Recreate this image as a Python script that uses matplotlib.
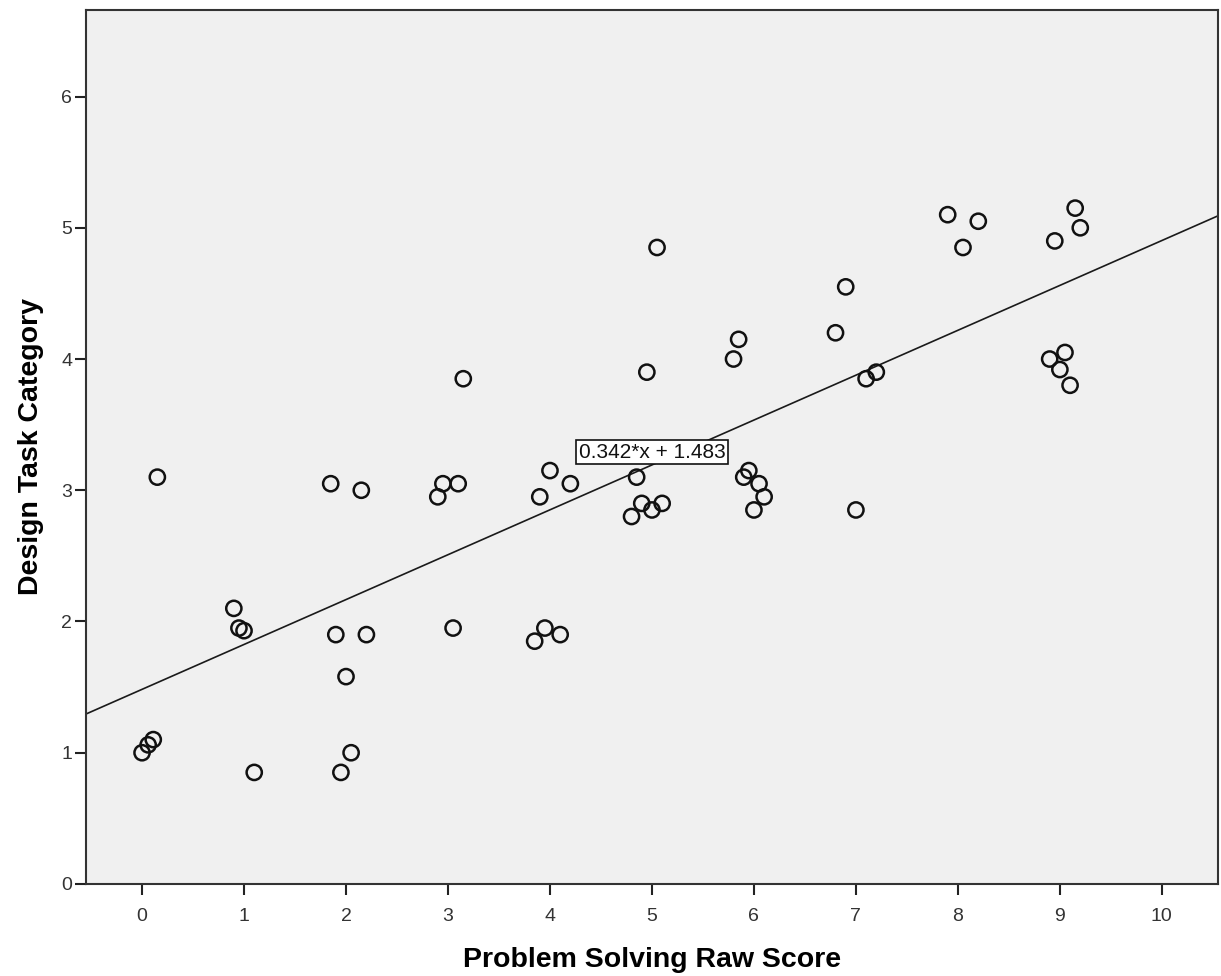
import matplotlib.pyplot as plt
import numpy as np

plt.rcParams['font.family'] = ['Liberation Sans', 'DejaVu Sans']

# scores
raw_score = [0.0, 0.06, 0.11, 0.15, 0.9, 0.95, 1.0, 1.1, 1.85, 1.9, 1.95, 2.0, 2.05,
             2.15, 2.2, 2.9, 2.95, 3.05, 3.1, 3.15, 3.85, 3.9, 3.95, 4.0, 4.1, 4.2,
             4.8, 4.85, 4.9, 4.95, 5.0, 5.05, 5.1, 5.8, 5.85, 5.9, 5.95, 6.0, 6.05,
             6.1, 6.8, 6.9, 7.0, 7.1, 7.2, 7.9, 8.05, 8.2, 8.9, 8.95, 9.0, 9.05,
             9.1, 9.15, 9.2]
design_cat = [1.0, 1.06, 1.1, 3.1, 2.1, 1.95, 1.93, 0.85, 3.05, 1.9, 0.85, 1.58, 1.0,
              3.0, 1.9, 2.95, 3.05, 1.95, 3.05, 3.85, 1.85, 2.95, 1.95, 3.15, 1.9, 3.05,
              2.8, 3.1, 2.9, 3.9, 2.85, 4.85, 2.9, 4.0, 4.15, 3.1, 3.15, 2.85, 3.05,
              2.95, 4.2, 4.55, 2.85, 3.85, 3.9, 5.1, 4.85, 5.05, 4.0, 4.9, 3.92, 4.05,
              3.8, 5.15, 5.0]

slope = 0.342
intercept = 1.483
fit_label = "0.342*x + 1.483"

fig = plt.figure(figsize=(12.21, 9.76), dpi=100)
ax = fig.add_axes([0.0704, 0.0943, 0.9271, 0.8955])
ax.set_facecolor('#f0f0f0')

xlim = (-0.55, 10.55)
ax.set_xlim(*xlim)
ax.set_ylim(0, 6.66)

# fit line
xs = np.array(xlim)
ax.plot(xs, slope * xs + intercept, color='#1a1a1a', lw=1.2, zorder=2)

ax.scatter(raw_score, design_cat, s=120, facecolors='none', edgecolors='#111111',
           linewidths=1.8, zorder=3)

ax.text(5.0, 3.29, fit_label, ha='center', va='center', fontsize=15, color='#111111',
        bbox=dict(boxstyle='square,pad=0.12', facecolor='white', edgecolor='#111111', lw=1.2),
        zorder=4)

ax.set_xticks(range(0, 11))
ax.set_yticks(range(0, 7))
ax.tick_params(axis='both', direction='out', length=8, width=1.5, color='#222222',
               labelsize=14, labelcolor='#333333')
ax.tick_params(axis='x', pad=9)
ax.tick_params(axis='y', pad=2)
for sp in ax.spines.values():
    sp.set_color('#333333')
    sp.set_linewidth(1.5)

ax.set_xlabel('Problem Solving Raw Score', fontsize=20.5, fontweight='bold', labelpad=16)
ax.set_ylabel('Design Task Category', fontsize=20.5, fontweight='bold', labelpad=12)

fig.savefig('out.png', dpi=100, facecolor='white')
